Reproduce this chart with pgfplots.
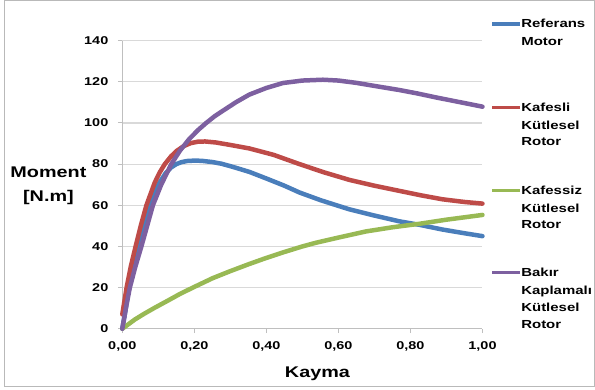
\documentclass[border=0pt]{standalone}
\usepackage{fontspec}
\setmainfont{Liberation Sans}[FakeStretch=1.28]
\usepackage{pgfplots}
\pgfplotsset{compat=1.18}
\definecolor{cblue}{HTML}{4A7EBB}
\definecolor{cred}{HTML}{BE4B48}
\definecolor{cgreen}{HTML}{98B954}
\definecolor{cpurple}{HTML}{7D60A0}
\definecolor{gridc}{HTML}{D9D9D9}
\definecolor{axc}{HTML}{BFBFBF}
\begin{document}
\begin{tikzpicture}[x=1pt,y=1pt]
\path (0,0) rectangle (595,390);
\draw[gray!55, line width=1pt] (5,2.5) rectangle (595.5,389);
\begin{axis}[
  at={(122.5pt,60.7pt)}, anchor=south west,
  scale only axis, width=360.8pt, height=288.6pt,
  xmin=0, xmax=1, ymin=0, ymax=140,
  xtick={0,0.2,0.4,0.6,0.8,1.0},
  ytick={0,20,40,60,80,100,120,140},
  axis x line=bottom, axis y line=left,
  axis line style={-, draw=axc, line width=1pt},
  ymajorgrids, grid style={draw=gridc, line width=1.2pt},
  tick align=outside, major tick length=4.5pt,
  tick style={draw=axc, line width=1pt},
  xtick pos=bottom, ytick pos=left,
  /pgf/number format/assume math mode=true,
  tick label style={font=\bfseries\fontsize{11.3}{13}\selectfont},
  xticklabel style={yshift=-5pt, /pgf/number format/.cd, use comma, fixed, fixed zerofill, precision=2},
  yticklabel style={xshift=-6pt, /pgf/number format/fixed},
  clip=false,
  every axis plot/.append style={line width=4.5pt, line join=round, line cap=round},
]
\addplot[cblue] coordinates {
(0,0) (0.009,9) (0.018,20) (0.032,30.5) (0.046,40) (0.061,50.5) (0.076,60) (0.09,66.5) (0.105,71.5) (0.12,75.5) (0.135,78.3) (0.15,80) (0.165,81) (0.18,81.5) (0.2,81.7) (0.22,81.6) (0.25,81) (0.275,80.2) (0.3,79) (0.325,77.7) (0.353,76.2) (0.4,73) (0.45,69.5) (0.492,66.2) (0.55,62.5) (0.6,59.7) (0.631,58) (0.7,55) (0.769,52.2) (0.825,50.5) (0.889,48.2) (0.95,46.4) (1.0,45)
};
\addplot[cred] coordinates {
(0,7) (0.006,13.5) (0.012,20) (0.024,30.5) (0.037,40) (0.052,50.5) (0.067,60) (0.09,71) (0.104,76) (0.118,80) (0.135,83.7) (0.15,86.3) (0.17,88.7) (0.19,90.2) (0.21,90.9) (0.23,91) (0.26,90.5) (0.3,89.3) (0.353,87.6) (0.42,84.5) (0.492,80) (0.56,76) (0.631,72.3) (0.7,69.5) (0.769,67) (0.83,64.8) (0.889,62.9) (0.95,61.6) (1.0,60.8)
};
\addplot[cgreen] coordinates {
(0,0) (0.035,4.5) (0.06,7.2) (0.09,10.2) (0.13,14) (0.16,16.9) (0.196,20) (0.25,24.5) (0.3,28) (0.35,31.3) (0.39,33.8) (0.45,37.3) (0.5,40) (0.538,41.8) (0.6,44.3) (0.677,47.3) (0.75,49.3) (0.825,51) (0.9,53) (1.0,55.3)
};
\addplot[cpurple] coordinates {
(0,0) (0.01,10) (0.021,20) (0.036,30) (0.053,40) (0.069,50) (0.085,60) (0.108,70) (0.136,80) (0.16,86.5) (0.185,92) (0.21,96.5) (0.233,100) (0.256,103.2) (0.28,106) (0.315,110) (0.353,113.8) (0.4,117) (0.446,119.4) (0.5,120.6) (0.557,121) (0.6,120.6) (0.649,119.5) (0.7,118) (0.769,116) (0.82,114.3) (0.871,112.4) (0.94,110) (1.0,107.9)
};
\end{axis}
% axis titles
\node[font=\bfseries\fontsize{15.5}{24}\selectfont, align=center] at (48.5,204) {Moment\\{[N.m]}};
\node[font=\bfseries\fontsize{15.5}{18}\selectfont] at (318,16) {Kayma};
% legend
\begin{scope}[font=\bfseries\fontsize{11.7}{13}\selectfont]
\draw[cblue, line width=3.3pt] (493,366) -- (521,366);
\node[anchor=base west, inner sep=0pt] at (522,362) {Referans};
\node[anchor=base west, inner sep=0pt] at (522,344.5) {Motor};
\draw[cred, line width=3.3pt] (493,282.3) -- (521,282.3);
\node[anchor=base west, inner sep=0pt] at (522,278.3) {Kafesli};
\node[anchor=base west, inner sep=0pt] at (522,260.7) {Kütlesel};
\node[anchor=base west, inner sep=0pt] at (522,244) {Rotor};
\draw[cgreen, line width=3.3pt] (493,199) -- (521,199);
\node[anchor=base west, inner sep=0pt] at (522,195) {Kafessiz};
\node[anchor=base west, inner sep=0pt] at (522,177) {Kütlesel};
\node[anchor=base west, inner sep=0pt] at (522,161) {Rotor};
\draw[cpurple, line width=3.3pt] (493,116.7) -- (521,116.7);
\node[anchor=base west, inner sep=0pt] at (522,112.7) {Bakır};
\node[anchor=base west, inner sep=0pt] at (522,95) {Kaplamalı};
\node[anchor=base west, inner sep=0pt] at (522,77.7) {Kütlesel};
\node[anchor=base west, inner sep=0pt] at (522,61) {Rotor};
\end{scope}
\end{tikzpicture}
\end{document}
